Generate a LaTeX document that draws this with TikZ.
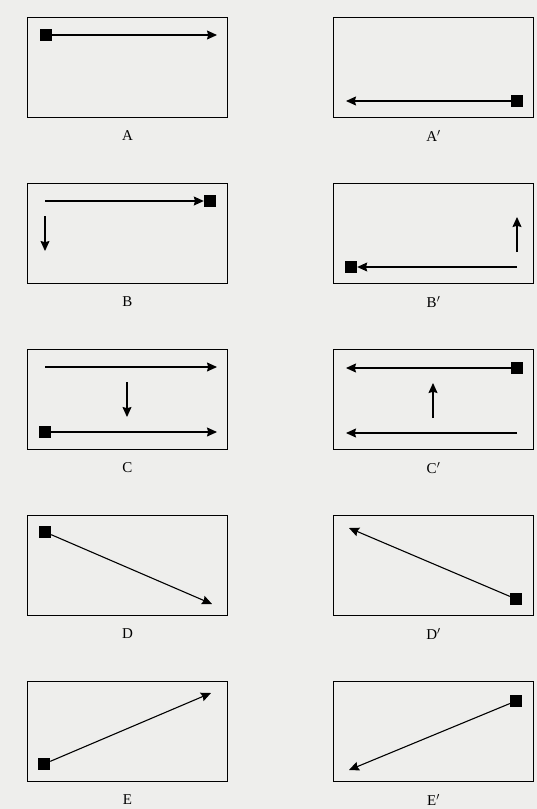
\documentclass[tikz,border=0pt]{standalone}
\usepackage{fontspec}
\setmainfont{Liberation Serif}
\usepackage{tikz}
\usetikzlibrary{arrows.meta,positioning}
\definecolor{paper}{RGB}{238,238,236}

\begin{document}
\begin{tikzpicture}[
    x=1pt, y=-1pt,
    panel/.style={rectangle, draw, line width=1.3pt, inner sep=0pt, minimum width=200pt, minimum height=100pt},
    lbl/.style={font=\fontsize{15}{17}\selectfont, label distance=8.5pt},
    marker/.style={rectangle, fill=black, inner sep=0pt, minimum size=12pt},
    arr/.style={line width=1.1pt, -{Stealth[length=10pt,width=9pt,inset=1.2pt]}}
]
    \fill[paper] (0,0) rectangle (537,809);

    % Row 1
    \node[panel, label={[lbl]below:A}] (a-box) at (127.5,67.5) {};
    \node[marker] (a-sq) at (46,35) {};
    \coordinate (a-end) at (217,35);
    \draw[arr] (a-sq) -- (a-end);

    \node[panel, label={[lbl]below:A$'$}] (a2-box) at (433.5,67.5) {};
    \node[marker] (a2-sq) at (517,101) {};
    \coordinate (a2-end) at (346,101);
    \draw[arr] (a2-sq) -- (a2-end);

    % Row 2
    \node[panel, label={[lbl]below:B}] (b-box) at (127.5,233.5) {};
    \node[marker] (b-sq) at (210,201) {};
    \coordinate (b-start) at (45,201);
    \draw[arr] (b-start) -- (b-sq);
    \coordinate (b-down1) at (45,216);
    \coordinate (b-down2) at (45,251);
    \draw[arr] (b-down1) -- (b-down2);

    \node[panel, label={[lbl]below:B$'$}] (b2-box) at (433.5,233.5) {};
    \node[marker] (b2-sq) at (351,267) {};
    \coordinate (b2-start) at (517,267);
    \draw[arr] (b2-start) -- (b2-sq);
    \coordinate (b2-up1) at (517,252);
    \coordinate (b2-up2) at (517,217);
    \draw[arr] (b2-up1) -- (b2-up2);

    % Row 3
    \node[panel, label={[lbl]below:C}] (c-box) at (127.5,399.5) {};
    \coordinate (c-top1) at (45,367);
    \coordinate (c-top2) at (217,367);
    \draw[arr] (c-top1) -- (c-top2);
    \coordinate (c-down1) at (127,382);
    \coordinate (c-down2) at (127,417);
    \draw[arr] (c-down1) -- (c-down2);
    \node[marker] (c-sq) at (45,432) {};
    \coordinate (c-end) at (217,432);
    \draw[arr] (c-sq) -- (c-end);

    \node[panel, label={[lbl]below:C$'$}] (c2-box) at (433.5,399.5) {};
    \node[marker] (c2-sq) at (517,368) {};
    \coordinate (c2-end) at (346,368);
    \draw[arr] (c2-sq) -- (c2-end);
    \coordinate (c2-up1) at (433,418);
    \coordinate (c2-up2) at (433,383);
    \draw[arr] (c2-up1) -- (c2-up2);
    \coordinate (c2-bot1) at (517,433);
    \coordinate (c2-bot2) at (346,433);
    \draw[arr] (c2-bot1) -- (c2-bot2);

    % Row 4
    \node[panel, label={[lbl]below:D}] (d-box) at (127.5,565.5) {};
    \node[marker] (d-sq) at (45,532) {};
    \coordinate (d-end) at (212,604);
    \draw[arr] (d-sq) -- (d-end);

    \node[panel, label={[lbl]below:D$'$}] (d2-box) at (433.5,565.5) {};
    \node[marker] (d2-sq) at (516,599) {};
    \coordinate (d2-end) at (349,528);
    \draw[arr] (d2-sq) -- (d2-end);

    % Row 5
    \node[panel, label={[lbl]below:E}] (e-box) at (127.5,731.5) {};
    \node[marker] (e-sq) at (44,764) {};
    \coordinate (e-end) at (211,693);
    \draw[arr] (e-sq) -- (e-end);

    \node[panel, label={[lbl]below:E$'$}] (e2-box) at (433.5,731.5) {};
    \node[marker] (e2-sq) at (516,701) {};
    \coordinate (e2-end) at (349,770);
    \draw[arr] (e2-sq) -- (e2-end);
\end{tikzpicture}
\end{document}
